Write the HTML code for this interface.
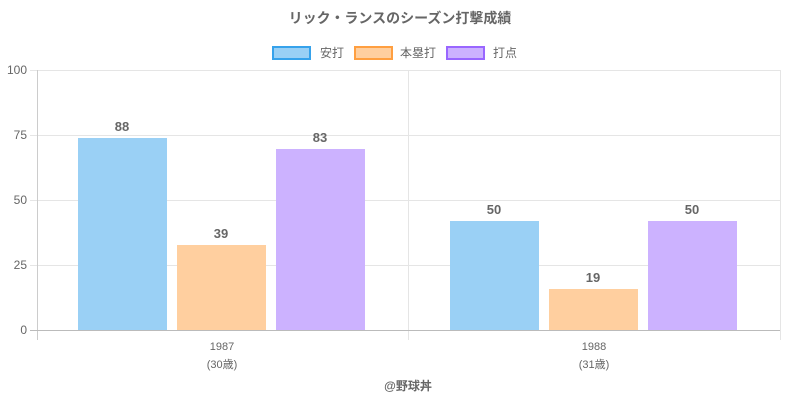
<!DOCTYPE html>
<html><head><meta charset="utf-8"><style>
body{margin:0;background:#fff;}
svg text{font-family:"Liberation Sans","Noto Sans CJK JP",sans-serif;fill:#666;}
</style></head><body>
<svg width="800" height="400" xmlns="http://www.w3.org/2000/svg">
<text x="400" y="23" text-anchor="middle" font-size="14" font-weight="bold">リック・ランスのシーズン打撃成績</text>
<rect x="273" y="47" width="37" height="12" fill="#9ad0f5" stroke="#36a2eb" stroke-width="2"/>
<text x="320" y="57" font-size="12">安打</text>
<rect x="355" y="47" width="37" height="12" fill="#ffcf9f" stroke="#ff9f40" stroke-width="2"/>
<text x="400" y="57" font-size="12">本塁打</text>
<rect x="447" y="47" width="37" height="12" fill="#ccb2ff" stroke="#9966ff" stroke-width="2"/>
<text x="493" y="57" font-size="12">打点</text>
<g stroke="#e5e5e5" stroke-width="1">
<line x1="30" y1="70.5" x2="780" y2="70.5"/>
<line x1="30" y1="135.5" x2="780" y2="135.5"/>
<line x1="30" y1="200.5" x2="780" y2="200.5"/>
<line x1="30" y1="265.5" x2="780" y2="265.5"/>
<line x1="408.5" y1="70" x2="408.5" y2="340"/>
<line x1="780.5" y1="70" x2="780.5" y2="340"/>
</g>
<line x1="37.5" y1="70" x2="37.5" y2="340" stroke="#ccc"/>
<line x1="30" y1="330.5" x2="780" y2="330.5" stroke="#bbb"/>
<g font-size="12" text-anchor="end">
<text x="27" y="74">100</text><text x="27" y="139">75</text><text x="27" y="204">50</text><text x="27" y="269">25</text><text x="27" y="334">0</text>
</g>
<g>
<rect x="78" y="138" width="89" height="192" fill="#9ad0f5"/>
<rect x="177" y="245" width="89" height="85" fill="#ffcf9f"/>
<rect x="276" y="149" width="89" height="181" fill="#ccb2ff"/>
<rect x="450" y="221" width="89" height="109" fill="#9ad0f5"/>
<rect x="549" y="289" width="89" height="41" fill="#ffcf9f"/>
<rect x="648" y="221" width="89" height="109" fill="#ccb2ff"/>
</g>
<g font-size="13" font-weight="bold" text-anchor="middle">
<text x="122" y="131">88</text><text x="221" y="238">39</text><text x="320" y="142">83</text>
<text x="494" y="214">50</text><text x="593" y="282">19</text><text x="692" y="214">50</text>
</g>
<g font-size="11" text-anchor="middle">
<text x="222" y="350">1987</text><text x="222" y="368">(30歳)</text>
<text x="594" y="350">1988</text><text x="594" y="368">(31歳)</text>
</g>
<text x="408" y="390" font-size="12" font-weight="bold" text-anchor="middle">@野球丼</text>
</svg>
</body></html>
